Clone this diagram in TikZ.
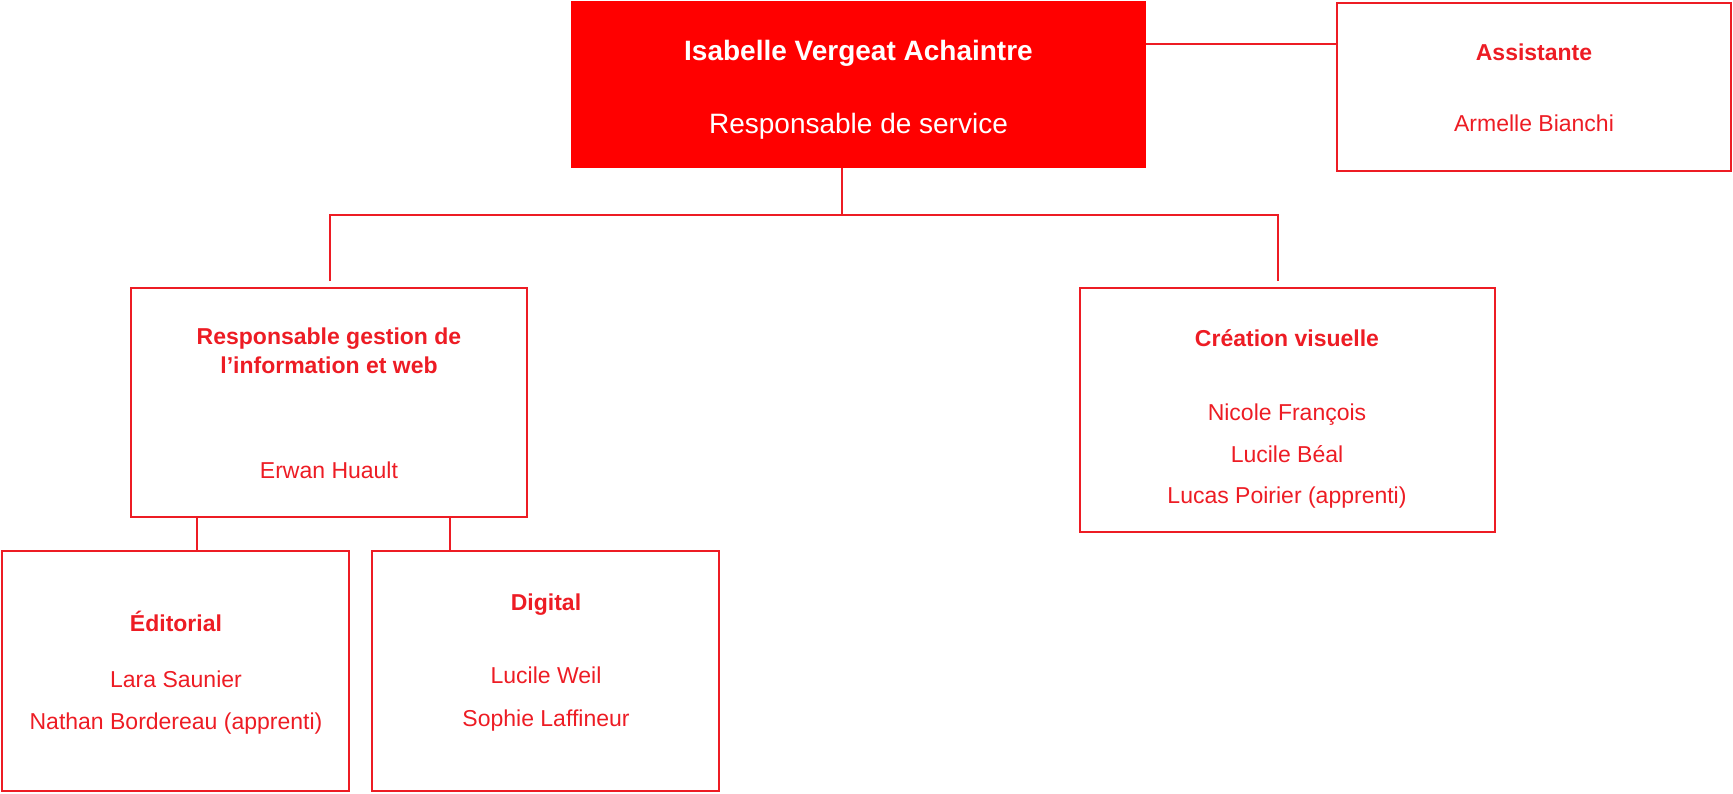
\documentclass[tikz,border=0pt]{standalone}
\usepackage{fontspec}
\setmainfont{Liberation Sans}
\usetikzlibrary{calc}
\usetikzlibrary{positioning}
\definecolor{orgred}{RGB}{237,28,36}
\definecolor{headred}{RGB}{255,0,0}
\tikzset{
	orgbox/.style={
		rectangle,
		draw=orgred, line width=1pt,
		inner sep=0pt, outer sep=0pt},
	headbox/.style={
		rectangle,
		fill=headred,
		inner sep=0pt, outer sep=0pt},
	headname/.style={text=white, font=\fontsize{14}{17}\selectfont\bfseries, anchor=base, inner sep=0pt},
	headrole/.style={text=white, font=\fontsize{14}{17}\selectfont, anchor=base, inner sep=0pt},
	boxtitle/.style={text=orgred, font=\fontsize{11.5}{14}\selectfont\bfseries, anchor=base, inner sep=0pt},
	boxname/.style={text=orgred, font=\fontsize{11.5}{14}\selectfont, anchor=base, inner sep=0pt},
	link/.style={draw=orgred, line width=0.7pt},
}

\begin{document}
\begin{tikzpicture}[x=0.5pt,y=-0.5pt]
	\useasboundingbox (0,0) rectangle (1733,793);
	% boxes
	\node[headbox, minimum width=287.5pt, minimum height=83.5pt] (head) at (858.5,84.5) {};
	\node[orgbox, minimum width=197pt, minimum height=84pt] (assist) at (1534,87) {};
	\node[orgbox, minimum width=198pt, minimum height=114.5pt] (gestion) at (329,402.5) {};
	\node[orgbox, minimum width=207.5pt, minimum height=122pt] (creation) at (1287.5,410) {};
	\node[orgbox, minimum width=173.5pt, minimum height=120pt] (editorial) at (175.5,671) {};
	\node[orgbox, minimum width=173.5pt, minimum height=120pt] (digital) at (545.5,671) {};

	% texts
	\node[headname] (headn) at (858.5,60) {Isabelle Vergeat Achaintre};
	\node[headrole] (headr) at (858.5,133) {Responsable de service};
	\node[boxtitle] (assistt) at (1534,60) {Assistante};
	\node[boxname] (assistn) at (1534,131) {Armelle Bianchi};
	\node[boxtitle] (gestiont) at (329,344) {Responsable gestion de};
	\node[boxtitle] (gestiont2) at (329,373) {l’information et web};
	\node[boxname] (gestionn) at (329,478) {Erwan Huault};
	\node[boxtitle] (creationt) at (1287,346) {Création visuelle};
	\node[boxname] (creationn1) at (1287,420) {Nicole François};
	\node[boxname] (creationn2) at (1287,462) {Lucile Béal};
	\node[boxname] (creationn3) at (1287,503) {Lucas Poirier (apprenti)};
	\node[boxtitle] (editorialt) at (176,631) {Éditorial};
	\node[boxname] (editorialn1) at (176,687) {Lara Saunier};
	\node[boxname] (editorialn2) at (176,729) {Nathan Bordereau (apprenti)};
	\node[boxtitle] (digitalt) at (546,610) {Digital};
	\node[boxname] (digitaln1) at (546,683) {Lucile Weil};
	\node[boxname] (digitaln2) at (546,726) {Sophie Laffineur};

	% connectors
	\coordinate (assistline) at (1200,44);
	\coordinate (hub) at (842,215);
	\coordinate (dropL) at (330,281);
	\coordinate (dropR) at (1278,281);
	\coordinate (edtap) at (197,0);
	\coordinate (digtap) at (450,0);
	\draw[link] (head.east |- assistline) -- (assist.west |- assistline);
	\draw[link] (head.south -| hub) -- (hub);
	\draw[link] (dropL) |- (hub) -| (dropR);
	\draw[link] (gestion.south -| edtap) -- (editorial.north -| edtap);
	\draw[link] (gestion.south -| digtap) -- (digital.north -| digtap);
\end{tikzpicture}
\end{document}
